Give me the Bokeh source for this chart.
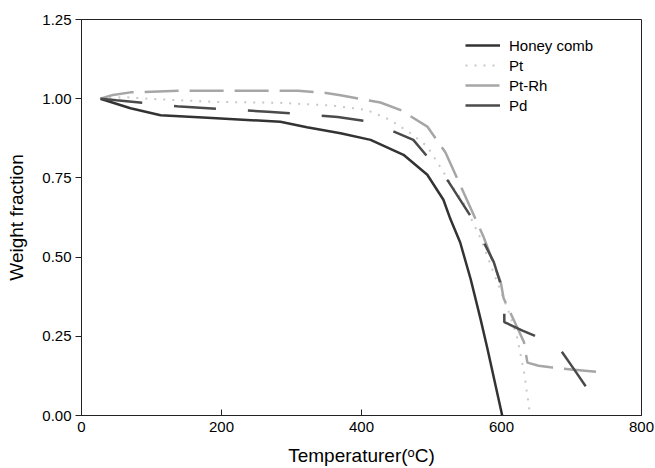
from bokeh.plotting import figure
from bokeh.models import Range1d, FixedTicker, PrintfTickFormatter, Legend, LegendItem
from bokeh.embed import file_html
from bokeh.resources import INLINE

# ---- data ----
honey_T = [27, 70, 113, 180, 284, 322, 370, 413, 460, 494, 517, 527, 541, 556, 570, 580, 601]
honey_W = [1.0, 0.970, 0.948, 0.940, 0.927, 0.910, 0.891, 0.870, 0.823, 0.760, 0.681, 0.620, 0.546, 0.430, 0.305, 0.210, 0.0]

pt_T = [27, 60, 94, 189, 284, 360, 408, 441, 470, 494, 531, 546, 570, 594, 610, 622, 632, 641]
pt_W = [1.0, 1.005, 1.0, 0.990, 0.987, 0.978, 0.964, 0.933, 0.891, 0.849, 0.720, 0.670, 0.560, 0.420, 0.330, 0.250, 0.140, 0.0]

ptrh_T = [27, 45, 70, 141, 237, 309, 346, 370, 427, 456, 494, 520, 546, 574, 599, 603, 622, 632, 637, 653, 670, 700, 735]
ptrh_W = [1.0, 1.012, 1.020, 1.025, 1.025, 1.025, 1.019, 1.011, 0.988, 0.964, 0.912, 0.830, 0.703, 0.566, 0.420, 0.370, 0.280, 0.232, 0.167, 0.157, 0.152, 0.145, 0.138]

pd_T = [27, 50, 89, 141, 199, 266, 313, 366, 413, 474, 524, 556, 589, 604, 604, 630, 680, 703, 724]
pd_W = [1.0, 0.995, 0.987, 0.975, 0.967, 0.959, 0.952, 0.942, 0.927, 0.870, 0.739, 0.629, 0.484, 0.378, 0.295, 0.268, 0.221, 0.148, 0.080]

x_ticks = [0, 200, 400, 600, 800]
y_ticks = [0.0, 0.25, 0.5, 0.75, 1.0, 1.25]

FONT = "Liberation Sans"

p = figure(width=655, height=468, output_backend="svg", toolbar_location=None,
           x_range=Range1d(0, 800), y_range=Range1d(0, 1.25),
           min_border_left=81, min_border_right=14, min_border_top=19, min_border_bottom=51)
p.background_fill_color = "white"
p.border_fill_color = "white"
p.outline_line_color = "#222222"
p.outline_line_width = 1
p.xgrid.visible = False
p.ygrid.visible = False

p.xaxis.ticker = FixedTicker(ticks=x_ticks)
p.yaxis.ticker = FixedTicker(ticks=y_ticks)
p.yaxis.formatter = PrintfTickFormatter(format="%.2f")
p.xaxis.minor_tick_line_color = None
p.yaxis.minor_tick_line_color = None
p.xaxis.major_tick_in = 6
p.xaxis.major_tick_out = 0
p.yaxis.major_tick_in = 0
p.yaxis.major_tick_out = 6
for ax in (p.xaxis, p.yaxis):
    ax.axis_line_color = "#222222"
    ax.major_tick_line_color = "#222222"
    ax.major_label_text_font = FONT
    ax.major_label_text_font_size = "15px"
    ax.major_label_text_color = "black"
    ax.axis_label_text_font = FONT
    ax.axis_label_text_font_size = "19px"
    ax.axis_label_text_font_style = "normal"
    ax.axis_label_text_color = "black"
p.xaxis.major_label_standoff = 6
p.yaxis.major_label_standoff = 4
p.xaxis.axis_label = "Temperaturer(\u1d52C)"
p.yaxis.axis_label = "Weight fraction"
p.xaxis.axis_label_standoff = 10
p.yaxis.axis_label_standoff = 12

r_honey = p.line(honey_T, honey_W, line_color="#333333", line_width=2.5)
r_pt = p.line(pt_T, pt_W, line_color="#c8c8c8", line_width=2, line_dash="2 7")
r_ptrh = p.line(ptrh_T, ptrh_W, line_color="#a6a6a6", line_width=2.5, line_dash="34 11")
r_pd = p.line(pd_T, pd_W, line_color="#4a4a4a", line_width=2.5, line_dash="42 32")

legend = Legend(items=[
    LegendItem(label="Honey comb", renderers=[r_honey]),
    LegendItem(label="Pt", renderers=[r_pt]),
    LegendItem(label="Pt-Rh", renderers=[r_ptrh]),
    LegendItem(label="Pd", renderers=[r_pd]),
], location=(384, 300))
legend.border_line_color = None
legend.background_fill_alpha = 0
legend.glyph_width = 35
legend.glyph_height = 20
legend.label_height = 20
legend.spacing = 0
legend.padding = 0
legend.margin = 0
legend.label_standoff = 9
legend.label_text_font = FONT
legend.label_text_font_size = "15px"
legend.label_text_color = "black"
p.add_layout(legend, "center")

open("out.html", "w").write(file_html(p, INLINE))
